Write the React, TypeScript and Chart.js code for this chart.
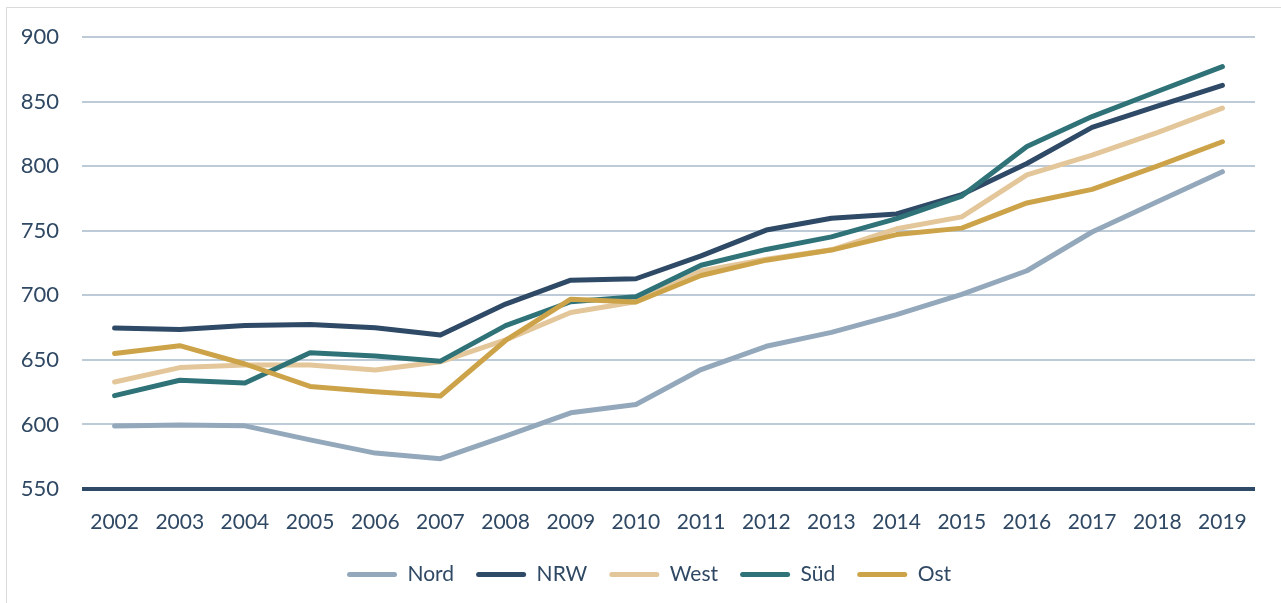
import React, { useEffect, useRef } from "react";
import { Chart, registerables } from "chart.js";

Chart.register(...registerables);

const years = ["2002","2003","2004","2005","2006","2007","2008","2009","2010","2011","2012","2013","2014","2015","2016","2017","2018","2019"];
const nord = [598.7, 599.5, 598.9, 588, 577.8, 573.5, 591, 609, 615.4, 642.5, 660.5, 671.3, 685, 700.7, 719, 749, 772.5, 795.7];
const nrw = [674.6, 673.6, 676.6, 677.4, 674.9, 669.2, 693.2, 711.7, 712.8, 730.5, 750.5, 759.6, 763, 778, 802, 830, 846.5, 862.6];
const west = [632.9, 644, 646, 646, 642.2, 648.5, 665.5, 686.7, 695, 718.8, 728, 735.2, 751.5, 760.7, 793.2, 808.6, 826, 844.9];
const sued = [622.3, 634.2, 632, 655.5, 653, 649, 676.5, 695, 698.8, 723.3, 735.5, 745.2, 759.3, 776.8, 815.2, 838.4, 857.8, 877];
const ost = [655, 661, 646.8, 629.4, 625.3, 622, 665, 697, 694.8, 715.3, 727.2, 735, 747, 752, 771.5, 782, 800, 818.9];

const seriesNames = ["Nord", "NRW", "West", "Süd", "Ost"];
const seriesColors = ["#94A8BC", "#2E4A66", "#E3C69A", "#2F7378", "#CDA34A"];
const seriesValues = [nord, nrw, west, sued, ost];

const yMin = 550;
const yMax = 900;
const yStep = 50;

const textColor = "#2F4863";
const gridColor = "#BDCAD8";
const axisColor = "#2E4A66";
const fontFamily = "Lato, 'Open Sans', sans-serif";

const legendShift = {
  id: "legendShift",
  afterLayout(chart: any) {
    if (chart.legend) {
      chart.legend.left = 43;
    }
  },
};

export default function App() {
  const ref = useRef<HTMLCanvasElement | null>(null);

  useEffect(() => {
    if (!ref.current) return;
    const n = seriesNames.length;
    const chart = new Chart(ref.current, {
      type: "line",
      data: {
        labels: years,
        datasets: seriesNames.map((name, i) => ({
          label: name,
          data: seriesValues[i],
          borderColor: seriesColors[i],
          backgroundColor: seriesColors[i],
          borderWidth: 5,
          borderCapStyle: "round" as const,
          borderJoinStyle: "round" as const,
          pointRadius: 0,
          pointHoverRadius: 0,
          tension: 0,
          fill: false,
          order: n - i,
        })),
      },
      plugins: [legendShift],
      options: {
        animation: false,
        responsive: false,
        devicePixelRatio: 1,
        layout: { padding: { left: 0, right: 26, top: 37, bottom: 8 } },
        plugins: {
          tooltip: { enabled: false },
          legend: {
            position: "bottom",
            align: "center",
            labels: {
              boxWidth: 50,
              boxHeight: 5,
              padding: 22,
              color: textColor,
              font: { family: fontFamily, size: 21 },
              sort: (a: any, b: any) => a.datasetIndex - b.datasetIndex,
              generateLabels: (c: any) => {
                const items = Chart.defaults.plugins.legend.labels.generateLabels(c);
                return items.map((it: any) => ({
                  ...it,
                  fillStyle: seriesColors[it.datasetIndex],
                  strokeStyle: seriesColors[it.datasetIndex],
                  lineWidth: 0,
                  borderRadius: 2.5,
                }));
              },
            },
          },
        },
        scales: {
          x: {
            type: "category",
            offset: true,
            grid: { display: false, drawTicks: false },
            border: { display: false },
            ticks: {
              color: textColor,
              font: { family: fontFamily, size: 21 },
              padding: 21,
              maxRotation: 0,
              autoSkip: false,
            },
            afterFit: (s: any) => { s.height = 53; },
          },
          y: {
            min: yMin,
            max: yMax,
            grid: {
              drawTicks: false,
              color: (ctx: any) => (ctx.tick && ctx.tick.value === yMin ? axisColor : gridColor),
              lineWidth: (ctx: any) => (ctx.tick && ctx.tick.value === yMin ? 4 : 2),
            },
            border: { display: false },
            ticks: {
              stepSize: yStep,
              color: textColor,
              font: { family: fontFamily, size: 22 },
              padding: 23,
            },
            afterFit: (s: any) => { s.width = 82; },
          },
        },
      },
    });
    return () => chart.destroy();
  }, []);

  return (
    <div>
      <div
        style={{
          position: "fixed",
          left: 6,
          top: 7,
          width: 1320,
          height: 700,
          border: "1.5px solid #DADADA",
          boxSizing: "border-box",
        }}
      />
      <canvas
        ref={ref}
        width={1281}
        height={603}
        style={{ position: "fixed", left: 0, top: 0, width: 1281, height: 603 }}
      />
    </div>
  );
}
